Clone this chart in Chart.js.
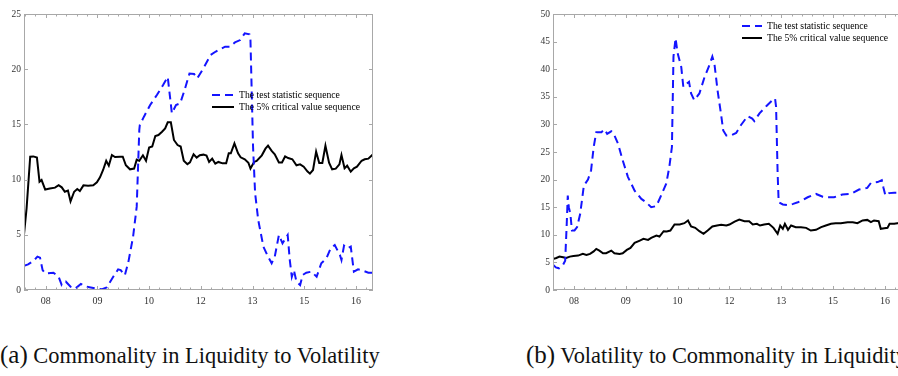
<!DOCTYPE html>
<html>
<head>
<meta charset="utf-8">
<script src="https://cdn.jsdelivr.net/npm/chart.js@4.4.1/dist/chart.umd.min.js"></script>
<style>
  html, body { margin: 0; padding: 0; background: #fff; width: 898px; height: 376px; overflow: hidden; position: relative; }
  canvas { position: absolute; top: 0; }
  .cap { position: absolute; white-space: nowrap; font-family: "Liberation Serif", "DejaVu Serif", serif; font-size: 22.4px; line-height: 22px; color: #111; }
  .cap .lbl { font-size: 25px; }
</style>
</head>
<body>
<canvas id="cA" width="380" height="310" style="left:0px"></canvas>
<canvas id="cB" width="380" height="310" style="left:529px"></canvas>
<div class="cap" style="left:0px; top:344px;"><span class="lbl">(a)</span> Commonality in Liquidity to Volatility</div>
<div class="cap" style="left:526px; top:344px;"><span class="lbl">(b)</span> Volatility to Commonality in Liquidity</div>
<script>
// x positions are measured in tick units: 0 = "08", 1 = "09", ... 6 = "16"
const xTickLabels = ['08', '09', '10', '12', '13', '15', '16'];
const seriesNames = ['The test statistic sequence', 'The 5% critical value sequence'];

// Panel (a): Commonality in Liquidity to Volatility
const aStatX = [-0.42,-0.34,-0.24,-0.16,-0.11,-0.06,-0.01,0.15,0.25,0.31,0.39,0.48,0.57,0.68,0.79,0.99,1.08,1.18,1.30,1.40,1.45,1.53,1.60,1.69,1.76,1.81,1.82,1.90,2.02,2.15,2.27,2.36,2.44,2.52,2.60,2.69,2.78,2.87,2.93,3.05,3.19,3.29,3.37,3.47,3.56,3.66,3.76,3.85,3.94,3.96,4.01,4.05,4.11,4.21,4.30,4.37,4.43,4.51,4.58,4.66,4.68,4.72,4.76,4.80,4.85,4.92,4.97,5.04,5.14,5.24,5.33,5.43,5.51,5.59,5.69,5.72,5.77,5.83,5.90,5.96,6.04,6.14,6.24,6.33];
const aStatY = [2.2,2.32,2.63,3.02,2.93,1.8,1.5,1.57,1.2,0.45,0.75,0.3,0.12,0.54,0.3,0.12,0.06,0.24,1.15,1.87,1.8,1.33,2.57,4.83,7.55,14.5,14.95,15.7,16.76,17.66,18.57,19.3,16.0,16.76,16.9,18.18,19.6,19.56,19.17,20.08,21.29,21.6,21.8,22.04,22.04,22.43,22.64,23.25,23.16,22.64,12.98,8.76,6.34,3.93,3.02,2.42,3.02,4.98,4.23,4.83,4.98,2.72,1.2,1.8,0.75,0.45,1.36,1.57,1.66,1.2,2.42,2.87,3.77,4.08,3.17,2.72,4.02,3.77,3.93,1.66,1.87,1.75,1.57,1.57];
const aCritX = [-0.42,-0.37,-0.30,-0.24,-0.17,-0.12,-0.08,-0.01,0.08,0.18,0.25,0.31,0.37,0.43,0.48,0.55,0.61,0.66,0.73,0.82,0.92,0.99,1.05,1.11,1.17,1.22,1.28,1.34,1.44,1.49,1.55,1.63,1.71,1.76,1.81,1.88,1.94,2.00,2.06,2.12,2.18,2.25,2.31,2.36,2.42,2.48,2.55,2.61,2.67,2.74,2.79,2.86,2.92,2.98,3.05,3.11,3.16,3.22,3.28,3.34,3.42,3.49,3.54,3.58,3.65,3.72,3.77,3.85,3.92,3.96,4.03,4.08,4.18,4.25,4.30,4.37,4.43,4.51,4.57,4.63,4.69,4.77,4.85,4.92,4.99,5.06,5.11,5.17,5.23,5.29,5.35,5.41,5.48,5.54,5.61,5.68,5.72,5.78,5.83,5.90,5.96,6.02,6.11,6.17,6.24,6.33];
const aCritY = [5.04,7.4,12.08,12.1,12.0,9.8,9.96,9.1,9.2,9.27,9.5,9.3,8.9,9.0,8.03,8.9,9.15,8.97,9.48,9.45,9.48,9.75,10.2,10.87,11.7,11.26,12.23,12.05,12.08,12.08,11.3,10.93,11.0,11.8,11.7,12.2,11.7,12.9,13.0,13.95,14.04,14.34,14.64,15.19,15.19,13.59,13.13,13.0,11.7,11.4,11.56,12.3,11.99,12.2,12.26,12.17,11.6,11.9,11.44,11.6,11.47,11.47,12.38,12.38,13.28,12.38,12.02,11.84,11.53,11.0,11.6,11.7,12.2,12.8,13.07,12.6,12.3,11.56,11.56,12.1,11.95,11.84,11.3,11.38,11.17,10.75,10.54,10.87,12.53,11.5,11.5,13.07,11.53,10.93,10.99,11.38,12.23,11.02,11.26,10.72,11.02,11.17,11.71,11.84,11.9,12.29];

// Panel (b): Volatility to Commonality in Liquidity
const bStatX = [-0.405,-0.35,-0.29,-0.21,-0.17,-0.14,-0.12,-0.10,-0.07,-0.04,0.01,0.06,0.12,0.19,0.27,0.33,0.38,0.43,0.53,0.59,0.64,0.72,0.76,0.85,0.94,1.04,1.17,1.30,1.39,1.49,1.59,1.68,1.78,1.84,1.89,1.92,1.96,2.00,2.07,2.11,2.18,2.22,2.26,2.32,2.42,2.52,2.60,2.67,2.71,2.77,2.84,2.88,2.94,3.03,3.13,3.22,3.35,3.44,3.48,3.58,3.71,3.83,3.88,3.90,3.93,3.95,4.03,4.12,4.23,4.32,4.40,4.51,4.67,4.80,4.89,5.02,5.18,5.34,5.50,5.66,5.73,5.86,5.94,5.97,6.01,6.08,6.18,6.33];
const bStatY = [4.6,4.1,3.93,4.6,5.3,12.0,17.1,15.0,13.8,10.8,10.8,11.4,13.8,18.9,20.0,21.7,25.9,28.6,28.6,29.1,28.3,28.75,28.45,26.5,23.5,20.5,18.0,16.5,15.9,15.0,15.2,17.1,19.25,22.3,25.9,42.3,45.6,42.9,40.4,36.8,37.4,37.7,35.6,34.4,35.6,38.6,40.4,42.3,41.0,36.2,31.7,28.9,28.0,28.0,28.45,29.85,31.5,31.05,30.6,32.0,33.3,34.4,34.7,33.2,21.1,15.9,15.5,15.4,15.6,15.9,16.2,16.8,17.4,16.9,16.8,16.8,17.3,17.4,18.2,18.5,19.4,19.55,19.9,18.6,17.1,17.55,17.6,17.6];
const bCritX = [-0.405,-0.34,-0.28,-0.21,-0.15,-0.08,-0.01,0.08,0.17,0.24,0.31,0.38,0.43,0.49,0.56,0.62,0.72,0.78,0.88,0.94,1.02,1.09,1.17,1.27,1.34,1.43,1.49,1.59,1.65,1.73,1.79,1.86,1.94,2.04,2.13,2.20,2.26,2.34,2.42,2.50,2.58,2.67,2.76,2.84,2.94,3.00,3.10,3.19,3.29,3.38,3.45,3.53,3.59,3.67,3.76,3.85,3.93,3.98,4.03,4.07,4.13,4.19,4.28,4.38,4.48,4.57,4.67,4.77,4.86,4.96,5.05,5.15,5.28,5.38,5.47,5.57,5.66,5.73,5.79,5.88,5.92,5.99,6.05,6.09,6.18,6.24,6.33];
const bCritY = [5.63,5.8,6.05,5.93,5.8,6.05,6.17,6.23,6.54,6.36,6.54,7.0,7.45,7.14,6.66,6.66,7.14,6.66,6.54,6.66,7.26,7.63,8.54,8.96,9.26,9.08,9.44,9.87,9.69,10.65,10.6,10.77,11.86,11.86,12.1,12.6,11.5,11.26,10.65,10.17,10.77,11.5,11.68,11.8,11.68,11.86,12.4,12.77,12.47,12.47,11.86,11.99,11.68,11.86,11.99,11.26,10.17,11.68,11.08,11.99,10.9,11.68,11.38,11.38,11.26,10.77,10.9,11.38,11.68,11.99,12.1,12.1,12.29,12.29,12.1,12.6,12.7,12.29,12.6,12.47,11.08,11.2,11.26,11.99,11.99,12.1,12.2];

const BLUE = 'rgb(20,20,255)';
const BLACK = '#000';
const FRAME = '#a8a8a8';
const SERIF = '"Liberation Serif", "DejaVu Serif", serif';

function pts(xs, ys) { return xs.map((x, i) => ({ x: x, y: ys[i] })); }

const framePlugin = {
  id: 'frame',
  afterDatasetsDraw(chart) {
    const { ctx, chartArea: a, scales } = chart;
    const xs = scales.x, ys = scales.y;
    ctx.save();
    ctx.strokeStyle = FRAME;
    ctx.lineWidth = 1;
    ctx.strokeRect(a.left + 0.5, a.top + 0.5, a.right - a.left - 1, a.bottom - a.top - 1);
    ctx.beginPath();
    for (let k = -5; k <= 35; k++) {
      const v = k / 5;
      if (v < xs.min || v > xs.max) continue;
      const px = Math.round(xs.getPixelForValue(v)) + 0.5;
      const len = (k % 5 === 0) ? 4 : 2.5;
      ctx.moveTo(px, a.bottom); ctx.lineTo(px, a.bottom - len);
      ctx.moveTo(px, a.top); ctx.lineTo(px, a.top + len);
    }
    const step = chart.options.scales.y.ticks.stepSize;
    for (let v = ys.min; v <= ys.max + 1e-9; v += step) {
      const py = Math.round(ys.getPixelForValue(v)) + 0.5;
      ctx.moveTo(a.left, py); ctx.lineTo(a.left + 4, py);
      ctx.moveTo(a.right, py); ctx.lineTo(a.right - 4, py);
    }
    ctx.stroke();
    ctx.restore();
  },
  afterDraw(chart) {
    const lg = chart.options.plugins.customLegend;
    if (!lg) return;
    const { ctx } = chart;
    ctx.save();
    ctx.font = '9.7px ' + SERIF;
    ctx.textBaseline = 'middle';
    ctx.fillStyle = '#000';
    chart.data.datasets.forEach((ds, i) => {
      const y = lg.y + i * lg.gap;
      ctx.beginPath();
      ctx.strokeStyle = ds.borderColor;
      ctx.lineWidth = 2;
      ctx.setLineDash(ds.borderDash || []);
      ctx.moveTo(lg.x, y); ctx.lineTo(lg.x + lg.len, y);
      ctx.stroke();
      ctx.setLineDash([]);
      ctx.fillText(ds.label, lg.x + lg.len + lg.textGap, y);
    });
    ctx.restore();
  }
};

function makeChart(id, statX, statY, critX, critY, xMin, yMax, yWidth, legend, padRight) {
  return new Chart(document.getElementById(id), {
    type: 'line',
    data: {
      datasets: [
        { label: seriesNames[0], data: pts(statX, statY), borderColor: BLUE, borderWidth: 2, borderDash: [8, 5], pointRadius: 0, tension: 0, fill: false },
        { label: seriesNames[1], data: pts(critX, critY), borderColor: BLACK, borderWidth: 2, pointRadius: 0, tension: 0, fill: false }
      ]
    },
    options: {
      responsive: false,
      animation: false,
      events: [],
      layout: { padding: { top: 14, right: padRight, left: 0, bottom: 0 } },
      plugins: { legend: { display: false }, tooltip: { enabled: false }, customLegend: legend },
      scales: {
        x: {
          type: 'linear', min: xMin, max: 6.33,
          grid: { display: false, drawTicks: false },
          border: { display: false },
          afterBuildTicks: (s) => { s.ticks = xTickLabels.map((l, i) => ({ value: i })); },
          afterFit: (s) => { s.height = 20; },
          ticks: {
            autoSkip: false, maxRotation: 0, padding: 5, color: '#333',
            font: { family: SERIF, size: 10 },
            callback: (v) => xTickLabels[v]
          }
        },
        y: {
          min: 0, max: yMax,
          grid: { display: false, drawTicks: false },
          border: { display: false },
          afterFit: (s) => { s.width = yWidth; },
          ticks: { stepSize: 5, padding: 3, color: '#333', font: { family: SERIF, size: 9.5 } }
        }
      }
    },
    plugins: [framePlugin]
  });
}

makeChart('cA', aStatX, aStatY, aCritX, aCritY, -0.42, 25, 24, { x: 212, y: 95, gap: 12, len: 22, textGap: 5 }, 7);
makeChart('cB', bStatX, bStatY, bCritX, bCritY, -0.405, 50, 24, { x: 213, y: 26, gap: 12, len: 20, textGap: 5 }, 7);
</script>
</body>
</html>
